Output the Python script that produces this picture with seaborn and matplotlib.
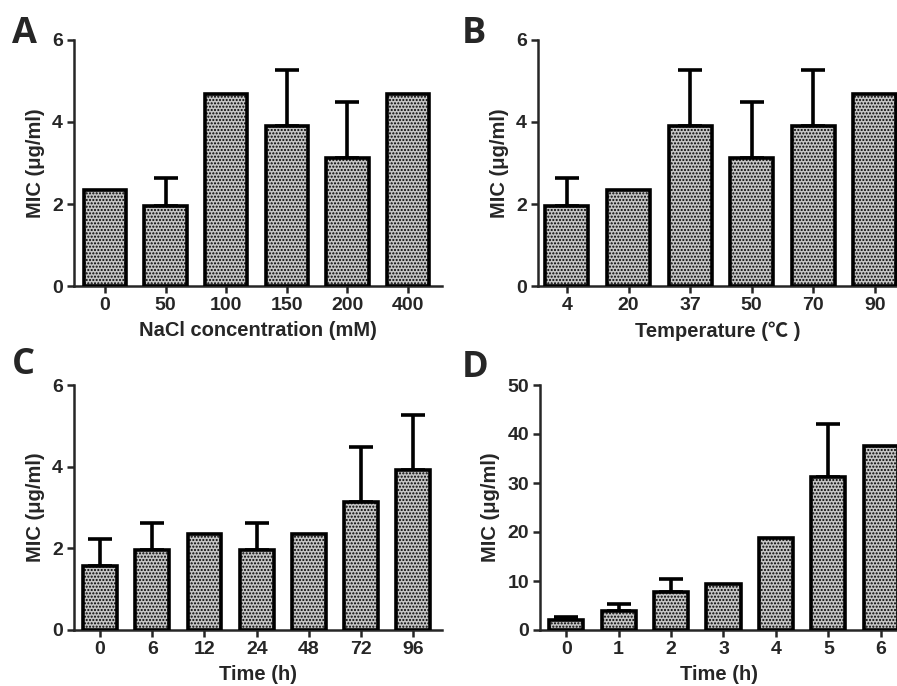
import numpy as np
import pandas as pd
import matplotlib
matplotlib.use('Agg')
import matplotlib.pyplot as plt
import seaborn as sns

# panel A - NaCl
nacl_labels = ['0', '50', '100', '150', '200', '400']
nacl_mic = [2.34, 1.95, 4.69, 3.91, 3.13, 4.69]
nacl_err = [0, 0.68, 0, 1.35, 1.35, 0]

# panel B - temperature
temp_labels = ['4', '20', '37', '50', '70', '90']
temp_mic = [1.95, 2.34, 3.91, 3.13, 3.91, 4.69]
temp_err = [0.68, 0, 1.35, 1.35, 1.35, 0]

# panel C - storage time
time_labels = ['0', '6', '12', '24', '48', '72', '96']
time_mic = [1.56, 1.95, 2.34, 1.95, 2.34, 3.13, 3.91]
time_err = [0.68, 0.68, 0, 0.68, 0, 1.35, 1.35]

# panel D - time (h)
hour_labels = ['0', '1', '2', '3', '4', '5', '6']
hour_mic = [1.95, 3.91, 7.81, 9.375, 18.75, 31.25, 37.5]
hour_err = [0.68, 1.35, 2.7, 0, 0, 10.8, 0]

sns.set_style('ticks')
plt.rcParams['font.family'] = ['Liberation Sans', 'Noto Sans CJK SC', 'DejaVu Sans']
plt.rcParams['font.weight'] = 'bold'
plt.rcParams['hatch.color'] = '#2a2a2a'
plt.rcParams['hatch.linewidth'] = 1.0

fig = plt.figure(figsize=(8.97, 6.86), dpi=100)

# axes boxes in figure fraction
boxes = {
    'A': [74/897, 1-286/686, (442-74)/897, (286-40)/686],
    'B': [538/897, 1-286/686, (897-538)/897, (286-40)/686],
    'C': [74/897, 1-630/686, (442-74)/897, (630-385)/686],
    'D': [540/897, 1-630/686, (897-540)/897, (630-385)/686],
}

panels = [
    ('A', nacl_labels, nacl_mic, nacl_err, 'NaCl concentration (mM)', (0, 6), [0, 2, 4, 6], (-0.51, 5.56), 0.7),
    ('B', temp_labels, temp_mic, temp_err, 'Temperature (\u2103 )', (0, 6), [0, 2, 4, 6], (-0.47, 5.36), 0.7),
    ('C', time_labels, time_mic, time_err, 'Time (h)', (0, 6), [0, 2, 4, 6], (-0.5, 6.55), 0.65),
    ('D', hour_labels, hour_mic, hour_err, 'Time (h)', (0, 50), [0, 10, 20, 30, 40, 50], (-0.5, 6.31), 0.65),
]

for name, labels, mic, err, xlabel, ylim, yticks, xlim, width in panels:
    ax = fig.add_axes(boxes[name])
    df = pd.DataFrame({'cond': labels, 'mic': mic})
    sns.barplot(data=df, x='cond', y='mic', order=labels, color='#c8c8c8',
                width=width, errorbar=None, ax=ax, zorder=3)
    for p in ax.patches:
        p.set_edgecolor('black')
        p.set_linewidth(2.6)
        p.set_hatch('.....')
        p.set_facecolor('#c4c4c4')
    err = np.array(err)
    idx = np.where(err > 0)[0]
    ax.errorbar(idx, np.array(mic)[idx], yerr=[np.zeros(len(idx)), err[idx]],
                fmt='none', ecolor='black', elinewidth=2.6, capsize=8.5,
                capthick=2.6, zorder=2)
    ax.set_ylim(*ylim)
    ax.set_yticks(yticks)
    ax.set_xlim(*xlim)
    sns.despine(ax=ax)
    ax.spines['left'].set_linewidth(1.8)
    ax.spines['bottom'].set_linewidth(1.8)
    ax.tick_params(axis='both', width=1.8, length=5, labelsize=14, pad=3)
    ax.set_xlabel(xlabel, fontsize=14.5, fontweight='bold', labelpad=5)
    ax.set_ylabel('MIC (\u03bcg/ml)', fontsize=14.5, fontweight='bold', labelpad=5)
    for t in ax.get_xticklabels() + ax.get_yticklabels():
        t.set_fontweight('bold')

fig.text(12/897, 1-43/686, 'A', fontsize=26, fontweight='bold', family='Open Sans')
fig.text(462/897, 1-43/686, 'B', fontsize=26, fontweight='bold', family='Open Sans')
fig.text(12/897, 1-374/686, 'C', fontsize=26, fontweight='bold', family='Open Sans')
fig.text(462/897, 1-377/686, 'D', fontsize=26, fontweight='bold', family='Open Sans')

fig.savefig('out.png', dpi=100)
